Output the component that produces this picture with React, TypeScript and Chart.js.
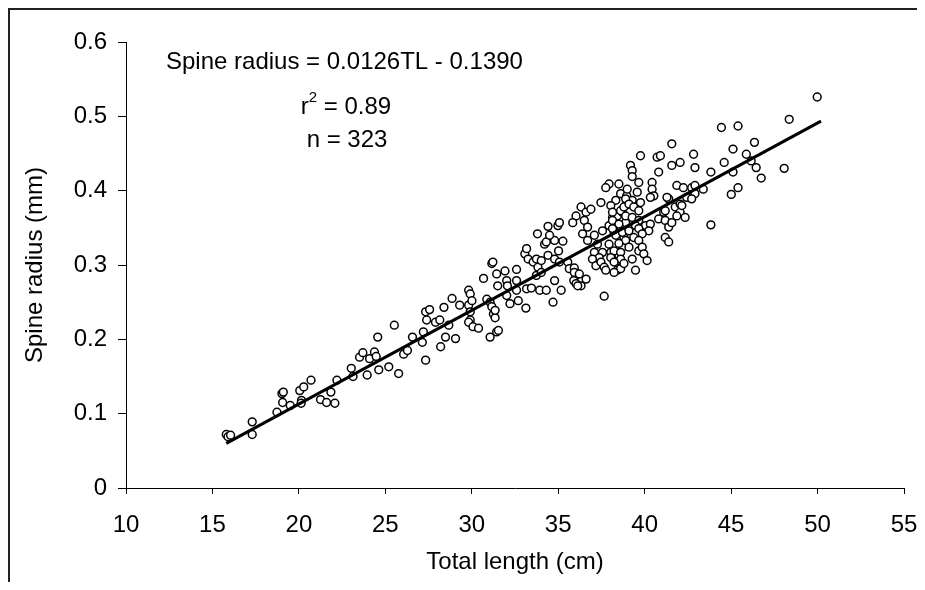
import React, { useEffect, useRef } from "react";
import { Chart, registerables } from "chart.js";

Chart.register(...registerables);

if (typeof document !== "undefined") {
  document.documentElement.style.overflow = "hidden";
  document.body.style.overflow = "hidden";
}

// Total length (cm) of each fish
const totalLength = [
  15.8, 15.9, 16.05, 17.3, 17.3, 18.73, 19.02, 19.1, 19.06, 19.5,
  20.05, 20.28, 20.7, 20.15, 20.13, 21.25, 21.6, 22.08, 21.85, 22.2,
  23.03, 23.13, 23.51, 23.7, 24.09, 24.37, 24.47, 23.95, 24.62, 25.2,
  25.77, 24.56, 25.52, 26.06, 26.28, 26.57, 27.14, 27.33, 27.2, 27.33,
  27.39, 27.56, 27.9, 28.15, 28.67, 28.48, 28.2, 28.39, 28.86, 29.06,
  29.3, 29.82, 29.91, 29.82, 29.91, 29.91, 30.01, 29.82, 30.07, 30.39,
  30.68, 30.87, 31.06, 31.16, 31.25, 31.35, 31.16, 31.22, 31.44, 31.5,
  31.35, 31.06, 31.44, 31.54, 31.92, 32.02, 32.06, 32.02, 32.21, 32.59,
  32.59, 32.59, 32.69, 33.13, 33.17, 33.45, 33.07, 33.17, 33.26, 33.55,
  33.74, 33.83, 33.74, 33.93, 34.02, 33.8, 34.41, 34.21, 34.31, 34.7,
  34.79, 35.17, 34.98, 35.07, 34.31, 34.79, 35.27, 35.02, 34.41, 34.79,
  35.07, 35.55, 35.64, 35.93, 36.03, 35.93, 35.9, 36.03, 36.32, 37.66,
  36.03, 36.32, 36.61, 36.89, 36.51, 35.84, 36.7, 36.41, 36.7, 37.09,
  37.27, 37.56, 37.47, 37.94, 38.14, 38.42, 38.23, 37.94, 37.56, 37.09,
  37.37, 36.98, 37.18, 37.47, 37.66, 38.42, 38.42, 38.61, 38.04, 38.71,
  38.8, 38.61, 38.9, 38.71, 38.9, 38.61, 38.96, 36.22, 36.61, 38.51,
  37.94, 37.75, 34.5, 34.02, 36.13, 37.75,
  41.57, 39.76, 40.72, 40.91, 39.18, 39.28, 39.28, 41.57, 42.05, 40.81,
  38.51, 38.99, 39.57, 39.66, 40.43, 40.43, 40.53, 39.76, 39.28, 38.9,
  38.33, 38.04, 38.14, 38.61, 38.8, 39.09, 39.37, 39.66, 38.9, 39.28,
  39.66, 38.14, 38.51, 38.14, 38.33, 38.71, 39.09, 39.47, 40.05, 40.33,
  40.81, 41.1, 41.39, 41.77, 42.05, 42.05, 41.86, 41.19, 41.39, 41.57,
  40.24, 39.66, 39.86, 39.37, 38.9, 38.51, 38.23, 38.61, 39.09, 39.66,
  39.66, 38.04, 38.61, 38.23, 38.8, 39.28, 39.86, 41.19, 41.39, 39.95,
  40.14, 38.23, 39.47,
  42.83, 42.91, 41.86, 42.24, 42.72, 42.91, 42.43, 42.72, 42.15, 42.34,
  41.29, 41.19, 40.33,
  49.98, 48.36, 44.44, 45.4, 46.35, 45.11, 45.88, 46.16, 46.45, 46.74,
  48.07, 44.6, 45.11, 43.83, 45.4, 45.01, 43.39, 42.91, 43.83,
];

// Spine radius (mm) of each fish
const spineRadius = [
  0.072, 0.069, 0.071, 0.089, 0.072, 0.102, 0.127, 0.129, 0.115, 0.111,
  0.131, 0.136, 0.145, 0.118, 0.114, 0.119, 0.115, 0.114, 0.129, 0.145,
  0.161, 0.15, 0.176, 0.182, 0.174, 0.183, 0.177, 0.152, 0.159, 0.163,
  0.154, 0.203, 0.219, 0.18, 0.185, 0.203, 0.196, 0.172, 0.21, 0.237,
  0.226, 0.24, 0.223, 0.226, 0.219, 0.203, 0.19, 0.243, 0.255, 0.201,
  0.246, 0.266, 0.261, 0.246, 0.237, 0.226, 0.252, 0.223, 0.217, 0.215,
  0.282, 0.254, 0.25, 0.244, 0.234, 0.229, 0.302, 0.304, 0.288, 0.272,
  0.239, 0.203, 0.21, 0.212, 0.292, 0.279, 0.272, 0.259, 0.248, 0.294,
  0.279, 0.266, 0.252, 0.242, 0.268, 0.269, 0.315, 0.322, 0.308, 0.304,
  0.308, 0.297, 0.286, 0.266, 0.29, 0.342, 0.352, 0.328, 0.266, 0.25,
  0.279, 0.266, 0.353, 0.357, 0.331, 0.333, 0.332, 0.319, 0.313, 0.308,
  0.304, 0.304, 0.295, 0.296, 0.286, 0.29, 0.279, 0.275, 0.272, 0.258,
  0.366, 0.378, 0.371, 0.375, 0.36, 0.357, 0.351, 0.342, 0.333, 0.34,
  0.328, 0.346, 0.384, 0.353, 0.364, 0.366, 0.344, 0.328, 0.317, 0.317,
  0.31, 0.308, 0.299, 0.304, 0.297, 0.306, 0.293, 0.295, 0.317, 0.324,
  0.337, 0.351, 0.357, 0.371, 0.38, 0.396, 0.393, 0.288, 0.281, 0.313,
  0.409, 0.404, 0.34, 0.306, 0.272, 0.293,
  0.463, 0.447, 0.445, 0.447, 0.434, 0.427, 0.419, 0.434, 0.438, 0.425,
  0.409, 0.402, 0.398, 0.411, 0.411, 0.402, 0.393, 0.384, 0.387, 0.389,
  0.387, 0.38, 0.371, 0.373, 0.378, 0.382, 0.378, 0.373, 0.366, 0.364,
  0.36, 0.36, 0.355, 0.349, 0.34, 0.344, 0.346, 0.353, 0.353, 0.355,
  0.362, 0.371, 0.389, 0.378, 0.382, 0.371, 0.366, 0.36, 0.351, 0.357,
  0.346, 0.349, 0.342, 0.337, 0.333, 0.329, 0.319, 0.317, 0.324, 0.333,
  0.319, 0.31, 0.308, 0.304, 0.302, 0.308, 0.324, 0.337, 0.331, 0.315,
  0.306, 0.29, 0.293,
  0.449, 0.431, 0.407, 0.404, 0.404, 0.396, 0.391, 0.389, 0.38, 0.364,
  0.391, 0.373, 0.391,
  0.526, 0.496, 0.485, 0.487, 0.465, 0.456, 0.449, 0.44, 0.431, 0.417,
  0.43, 0.438, 0.425, 0.425, 0.404, 0.395, 0.402, 0.407, 0.354,
];

// Regression line (from the printed equation) and its extent
const slope = 0.0126;
const intercept = -0.139;
const lineX = [15.8, 50.2];

const xTicks = [10, 15, 20, 25, 30, 35, 40, 45, 50, 55];
const yTicks = [0, 0.1, 0.2, 0.3, 0.4, 0.5, 0.6];

const equationText = "Spine radius = 0.0126TL - 0.1390";
const r2Value = "0.89";
const nText = "n = 323";
const xTitle = "Total length (cm)";
const yTitle = "Spine radius (mm)";

const FAMILY = "'Liberation Sans', Arial, Helvetica, sans-serif";
const FONT_SIZE = 24;

export default function App() {
  const canvasRef = useRef<HTMLCanvasElement | null>(null);

  useEffect(() => {
    if (!canvasRef.current) return;
    const font = { family: FAMILY, size: FONT_SIZE };

    const scatterData = totalLength.map((x, i) => ({ x, y: spineRadius[i] }));
    const lineData = lineX.map((x) => ({ x, y: slope * x + intercept }));

    const textPlugin = {
      id: "equationText",
      afterDatasetsDraw(chart: any) {
        const ctx = chart.ctx as CanvasRenderingContext2D;
        ctx.save();
        ctx.fillStyle = "#000";
        ctx.textBaseline = "middle";
        ctx.font = `${FONT_SIZE}px ${FAMILY}`;
        ctx.textAlign = "left";
        ctx.fillText(equationText, 156, 52);

        // r² line, centred
        const cx = 336;
        const supFont = `15px ${FAMILY}`;
        const wR = ctx.measureText("r").width;
        const rest = " = " + r2Value;
        const wRest = ctx.measureText(rest).width;
        ctx.font = supFont;
        const wSup = ctx.measureText("2").width;
        const total = wR + wSup + wRest;
        let x0 = cx - total / 2;
        ctx.font = `${FONT_SIZE}px ${FAMILY}`;
        ctx.fillText("r", x0, 97);
        x0 += wR;
        ctx.font = supFont;
        ctx.fillText("2", x0, 88);
        x0 += wSup;
        ctx.font = `${FONT_SIZE}px ${FAMILY}`;
        ctx.fillText(rest, x0, 97);

        ctx.textAlign = "center";
        ctx.fillText(nText, 337, 130);
        ctx.restore();
      },
    };

    const chart = new Chart(canvasRef.current, {
      type: "scatter",
      data: {
        datasets: [
          {
            data: lineData,
            showLine: true,
            borderColor: "#000",
            borderWidth: 3,
            pointRadius: 0,
            fill: false,
          },
          {
            data: scatterData,
            pointRadius: 3.9,
            pointBorderWidth: 1.5,
            borderColor: "#000",
            backgroundColor: "#fff",
            pointBackgroundColor: "#fff",
            pointBorderColor: "#000",
          },
        ],
      },
      options: {
        animation: false,
        responsive: true,
        maintainAspectRatio: false,
        layout: { padding: { top: 32, right: 21, bottom: 0, left: 0 } },
        plugins: {
          legend: { display: false },
          tooltip: { enabled: false },
        },
        scales: {
          x: {
            type: "linear",
            min: 10,
            max: 55,
            afterBuildTicks: (s: any) => {
              s.ticks = xTicks.map((v) => ({ value: v }));
            },
            afterFit: (s: any) => {
              s.height = 102;
              s.paddingLeft = 0;
              s.paddingRight = 0;
            },
            ticks: {
              font,
              color: "#000",
              padding: 17,
              autoSkip: false,
              maxRotation: 0,
              callback: (v: any) => String(v),
            },
            grid: { drawOnChartArea: false, tickLength: 6, color: "#000", lineWidth: 1 },
            border: { display: true, color: "#000", width: 1 },
            title: {
              display: true,
              text: xTitle,
              font,
              color: "#000",
              padding: { top: 0, bottom: 13 },
            },
          },
          y: {
            type: "linear",
            min: 0,
            max: 0.6,
            afterBuildTicks: (s: any) => {
              s.ticks = yTicks.map((v) => ({ value: v }));
            },
            afterFit: (s: any) => {
              s.width = 116;
            },
            ticks: {
              font,
              color: "#000",
              padding: 11,
              autoSkip: false,
              callback: (v: any) => String(Number(Number(v).toFixed(1))),
            },
            grid: { drawOnChartArea: false, tickLength: 8, color: "#000", lineWidth: 1 },
            border: { display: true, color: "#000", width: 1 },
            title: {
              display: true,
              text: yTitle,
              font,
              color: "#000",
              padding: { top: 11, bottom: 0 },
            },
          },
        },
      },
      plugins: [textPlugin],
    } as any);

    return () => chart.destroy();
  }, []);

  return (
    <div
      style={{
        position: "relative",
        width: 917,
        height: 582,
        marginBottom: -8,
        boxSizing: "border-box",
        borderLeft: "2px solid #222",
        borderTop: "2px solid #222",
        overflow: "hidden",
        background: "#fff",
      }}
    >
      <canvas ref={canvasRef} />
    </div>
  );
}
